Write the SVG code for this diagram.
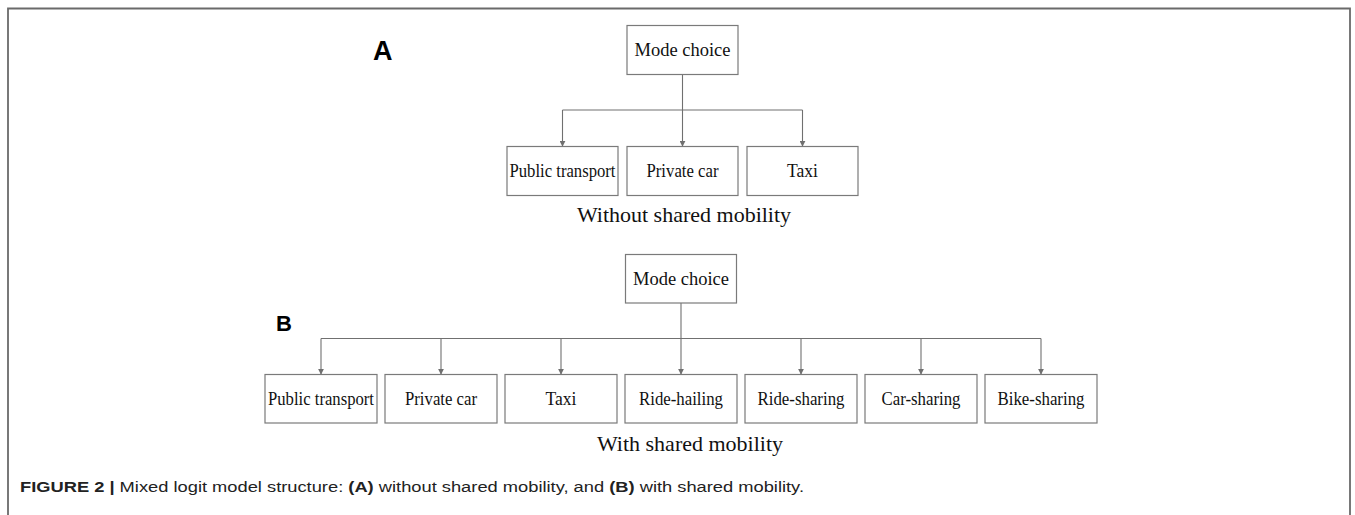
<svg xmlns="http://www.w3.org/2000/svg" width="1355" height="515" viewBox="0 0 1355 515">
<style>
.box{fill:#fff;stroke:#7a7a7a;stroke-width:1.2}
.lbl{font-family:"Liberation Serif","Times New Roman",serif;font-size:18.5px;fill:#111;text-anchor:middle}
.root{font-size:18.5px}
.sub{font-family:"Liberation Serif","Times New Roman",serif;font-size:22px;fill:#111;text-anchor:middle}
.panel{font-family:"Liberation Sans",Arial,sans-serif;font-weight:bold;fill:#000}
.con{fill:none;stroke:#707070;stroke-width:1.1}
.cap{font-family:"Liberation Sans",Arial,sans-serif;font-size:14px;fill:#222}
</style>
<defs>
<marker id="arr" viewBox="0 0 8 8" refX="7" refY="4" markerWidth="6" markerHeight="6" markerUnits="userSpaceOnUse" orient="auto">
<path d="M0,0 L8,4 L0,8 z" fill="#707070"/>
</marker>
</defs>
<rect x="0" y="0" width="1355" height="515" fill="#fff"/>
<path d="M8,530 V8.5 H1350 V530" fill="none" stroke="#6a6a6a" stroke-width="1.8"/>

<text class="panel" x="373" y="60" font-size="27">A</text>
<text class="panel" x="276" y="331" font-size="22">B</text>

<g id="connectors">
<path class="con" d="M682.5,74 V110"/>
<path class="con" d="M562.5,110 H802.5"/>
<path class="con" d="M562.5,110 V146" marker-end="url(#arr)"/>
<path class="con" d="M682.5,110 V146" marker-end="url(#arr)"/>
<path class="con" d="M802.5,110 V146" marker-end="url(#arr)"/>
<path class="con" d="M681,303 V338.5"/>
<path class="con" d="M321,338.5 H1041"/>
<path class="con" d="M321,338.5 V374" marker-end="url(#arr)"/>
<path class="con" d="M441,338.5 V374" marker-end="url(#arr)"/>
<path class="con" d="M561,338.5 V374" marker-end="url(#arr)"/>
<path class="con" d="M681,338.5 V374" marker-end="url(#arr)"/>
<path class="con" d="M801,338.5 V374" marker-end="url(#arr)"/>
<path class="con" d="M921,338.5 V374" marker-end="url(#arr)"/>
<path class="con" d="M1041,338.5 V374" marker-end="url(#arr)"/>
</g>

<g id="a-mode-choice"><rect class="box" x="627" y="25.5" width="111" height="49"/><text class="lbl root" x="682.5" y="56">Mode choice</text></g>
<g id="a-public-transport"><rect class="box" x="507" y="146.5" width="111" height="49"/><text class="lbl" x="562.5" y="177" textLength="106" lengthAdjust="spacingAndGlyphs">Public transport</text></g>
<g id="a-private-car"><rect class="box" x="627" y="146.5" width="111" height="49"/><text class="lbl" x="682.5" y="177" textLength="72" lengthAdjust="spacingAndGlyphs">Private car</text></g>
<g id="a-taxi"><rect class="box" x="747" y="146.5" width="111" height="49"/><text class="lbl" x="802.5" y="177" textLength="31" lengthAdjust="spacingAndGlyphs">Taxi</text></g>
<text class="sub" x="684" y="222">Without shared mobility</text>

<g id="b-mode-choice"><rect class="box" x="625.5" y="254.5" width="111" height="48.5"/><text class="lbl root" x="681" y="285">Mode choice</text></g>
<g id="b-public-transport"><rect class="box" x="265" y="374.5" width="112" height="48.5"/><text class="lbl" x="321" y="404.5" textLength="106" lengthAdjust="spacingAndGlyphs">Public transport</text></g>
<g id="b-private-car"><rect class="box" x="385" y="374.5" width="112" height="48.5"/><text class="lbl" x="441" y="404.5" textLength="72" lengthAdjust="spacingAndGlyphs">Private car</text></g>
<g id="b-taxi"><rect class="box" x="505" y="374.5" width="112" height="48.5"/><text class="lbl" x="561" y="404.5" textLength="31" lengthAdjust="spacingAndGlyphs">Taxi</text></g>
<g id="b-ride-hailing"><rect class="box" x="625" y="374.5" width="112" height="48.5"/><text class="lbl" x="681" y="404.5" textLength="84" lengthAdjust="spacingAndGlyphs">Ride-hailing</text></g>
<g id="b-ride-sharing"><rect class="box" x="745" y="374.5" width="112" height="48.5"/><text class="lbl" x="801" y="404.5" textLength="87" lengthAdjust="spacingAndGlyphs">Ride-sharing</text></g>
<g id="b-car-sharing"><rect class="box" x="865" y="374.5" width="112" height="48.5"/><text class="lbl" x="921" y="404.5" textLength="79" lengthAdjust="spacingAndGlyphs">Car-sharing</text></g>
<g id="b-bike-sharing"><rect class="box" x="985" y="374.5" width="112" height="48.5"/><text class="lbl" x="1041" y="404.5" textLength="87" lengthAdjust="spacingAndGlyphs">Bike-sharing</text></g>
<text class="sub" x="690" y="451">With shared mobility</text>

<text class="cap" x="20" y="492" textLength="784" lengthAdjust="spacingAndGlyphs"><tspan font-weight="bold">FIGURE 2 |</tspan> Mixed logit model structure: <tspan font-weight="bold">(A)</tspan> without shared mobility, and <tspan font-weight="bold">(B)</tspan> with shared mobility.</text>
</svg>
